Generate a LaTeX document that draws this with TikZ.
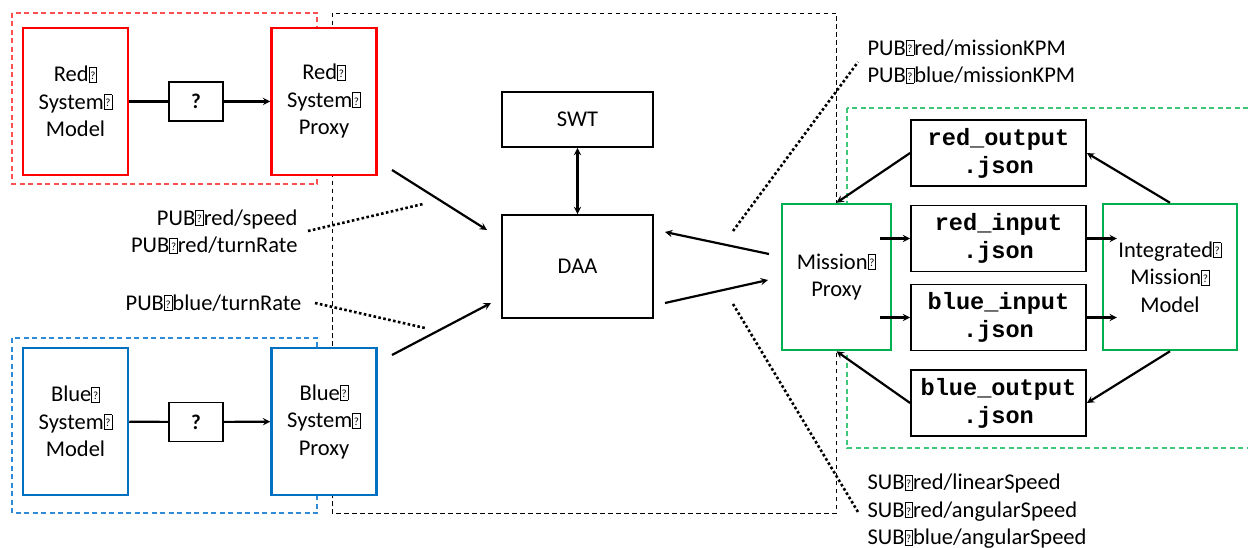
\documentclass[tikz,border=0pt]{standalone}
\usepackage{fontspec}
\setmainfont{Carlito}
\setmonofont{Liberation Mono}
\usetikzlibrary{calc}

\definecolor{sysred}{HTML}{FF0000}
\definecolor{sysblue}{HTML}{0070C0}
\definecolor{sysgreen}{HTML}{00B050}
\definecolor{grpred}{HTML}{FF5050}
\definecolor{grpblue}{HTML}{2E8BD8}
\definecolor{grpgreen}{HTML}{3CC878}

\newcommand{\tofu}{\makebox[0.38em][l]{\fboxsep=0pt\fboxrule=0.6pt\fbox{\makebox[0.32em]{\rule{0pt}{0.64em}\raisebox{0.1em}{\fontsize{11}{11}\selectfont ?}}}}}

\begin{document}
\begin{tikzpicture}[x=1pt,y=-1pt,
		every node/.style={font=\fontsize{22.5}{27.5}\selectfont, align=center},
		blk/.style={draw, line width=1.8pt, fill=white, inner sep=0pt},
		sys/.style={blk, line width=2.5pt, minimum width=105pt, minimum height=147pt},
		json/.style={blk, font=\fontsize{23.6}{28}\selectfont\ttfamily\bfseries, minimum width=175pt, minimum height=66pt},
		grp/.style={line width=1.1pt, dash pattern=on 5pt off 3.5pt},
		link/.style={line width=2.2pt},
		arr/.style={link, -stealth},
		dots/.style={line width=2.6pt, dash pattern=on 2.6pt off 2.4pt}]
		\def\qw{54pt};
		\def\qh{39pt};
		
		\useasboundingbox (0,0) rectangle (1248,548);
		\clip (0,0) rectangle (1248,548);
		
		\draw[grp, grpred] (12,13) rectangle (317,184);
		\draw[grp, grpblue] (12,338) rectangle (317,513);
		\draw[grp, line width=0.8pt, dash pattern=on 4.5pt off 3.5pt] (332,13) rectangle (836,513);
		\draw[grp, grpgreen, line width=1.3pt] (847,108) rectangle (1260,448);
		
		\node[sys, draw=sysred] (redmodel) at (75.5,101.5) {Red\tofu\\System\tofu\\Model};
		\node[blk, minimum width=\qw, minimum height=\qh, font=\fontsize{21}{27.5}\selectfont\bfseries] (redq) at (196,101.5) {?};
		\node[sys, draw=sysred] (redproxy) at (324,101.5) {Red\tofu\\System\tofu\\Proxy};
		
		\node[sys, draw=sysblue] (bluemodel) at (75.5,421.5) {Blue\tofu\\System\tofu\\Model};
		\node[blk, minimum width=\qw, minimum height=\qh, font=\fontsize{21}{27.5}\selectfont\bfseries] (blueq) at (196,422) {?};
		\node[sys, draw=sysblue] (blueproxy) at (324,421.5) {Blue\tofu\\System\tofu\\Proxy};
		
		\node[blk, minimum width=151pt, minimum height=55pt] (swt) at (577.5,119.5) {SWT};
		\node[blk, minimum width=151pt, minimum height=103pt] (daa) at (577.5,266.5) {DAA};
		
		\node[sys, draw=sysgreen, minimum width=109pt, minimum height=146pt] (mproxy) at (836.5,277) {Mission\tofu\\Proxy};
		\node[sys, draw=sysgreen, minimum width=134pt, minimum height=146pt] (imodel) at (1170,277) {Integrated\tofu\\Mission\tofu\\Model};
		
		\node[json] (redout) at (998.5,153) {red\_output\\.json};
		\node[json] (redin) at (998.5,238.5) {red\_input\\.json};
		\node[json] (bluein) at (998.5,317.5) {blue\_input\\.json};
		\node[json] (blueout) at (998.5,403) {blue\_output\\.json};
		
		\node[anchor=east, align=right] (pubred) at (301,231.5) {PUB\tofu red/speed\\PUB\tofu red/turnRate};
		\node[anchor=east, align=right] (pubblue) at (305,303) {PUB\tofu blue/turnRate};
		\node[anchor=west, align=left] (pubkpm) at (864,61.5) {PUB\tofu red/missionKPM\\PUB\tofu blue/missionKPM};
		\node[anchor=west, align=left] (sub) at (864,511.5) {SUB\tofu red/linearSpeed\\SUB\tofu red/angularSpeed\\SUB\tofu blue/angularSpeed};
		
		\coordinate (rp) at (392,170);
		\coordinate (rd) at (487,230);
		\coordinate (bp) at (392,355);
		\coordinate (bd) at (491,303);
		\coordinate (mi) at (769,254);
		\coordinate (di) at (665,232);
		\coordinate (do) at (665,303);
		\coordinate (mo) at (768,280);
		
		\draw[link] (redmodel) -- (redq);
		\draw[link] (bluemodel) -- (blueq);
		\draw[arr] (redq) -- (redproxy);
		\draw[arr] (blueq) -- (blueproxy);
		\draw[link, stealth-stealth] (swt) -- (daa);
		\draw[arr] (rp) -- (rd);
		\draw[arr] (bp) -- (bd);
		\draw[arr] (mi) -- (di);
		\draw[arr] (do) -- (mo);
		\draw[arr] (redout.west) -- (mproxy.north);
		\draw[arr] (imodel.north) -- (redout.east);
		\draw[arr] (imodel.south) -- (blueout.east);
		\draw[arr] (blueout.west) -- (mproxy.south);
		\draw[arr] ([xshift=-30pt]redin.west) -- (redin.west);
		\draw[arr] ([xshift=-30pt]bluein.west) -- (bluein.west);
		\draw[arr] (redin.east) -- ([xshift=30pt]redin.east);
		\draw[arr] (bluein.east) -- ([xshift=30pt]bluein.east);
		
		\coordinate (s1) at (308,231);
		\coordinate (s2) at (423,204);
		\coordinate (t1) at (315,303);
		\coordinate (t2) at (425,328);
		\coordinate (k1) at (733,231);
		\coordinate (k2) at (858,62);
		\coordinate (u1) at (733,304);
		\coordinate (u2) at (858,512);
		\draw[dots] (s1) -- (s2);
		\draw[dots] (t1) -- (t2);
		\draw[dots] (k1) -- (k2);
		\draw[dots] (u1) -- (u2);
	\end{tikzpicture}
\end{document}
